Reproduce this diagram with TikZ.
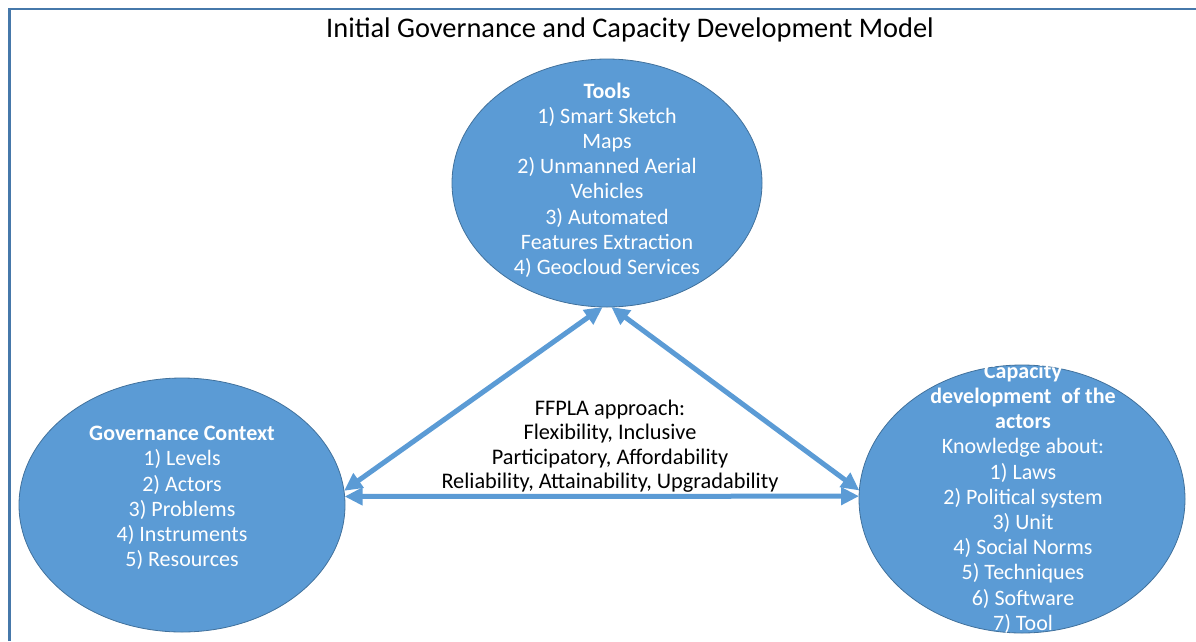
\documentclass[tikz,border=0pt]{standalone}
\usepackage{fontspec}
\setmainfont{Carlito}
\usepackage{tikz}
\usetikzlibrary{shapes.geometric, arrows.meta, positioning}
\definecolor{blobfill}{RGB}{91,155,213}
\definecolor{blobedge}{RGB}{65,113,156}
\definecolor{framecolour}{RGB}{70,120,170}

\begin{document}
\begin{tikzpicture}[x=1pt, y=-1pt,
    blob/.style={ellipse, draw=blobedge, line width=0.8pt, fill=blobfill, inner sep=0pt, outer sep=0pt},
    blobtext/.style={align=center, text=white, font=\fontsize{22}{25.2}\selectfont},
    arrow/.style={{Triangle[length=18pt,width=17pt]}-{Triangle[length=18pt,width=17pt]}, line width=5pt, draw=blobfill}
]
\useasboundingbox (0,0) rectangle (1196,641);
\draw[framecolour, line width=2.6pt] (9.5,641) -- (9.5,9) -- (1196,9);

\node[font=\fontsize{28.4}{34}\selectfont] (title) at (630,30) {Initial Governance and Capacity Development Model};

\node[blob, minimum width=310pt, minimum height=248pt] (tools) at (607,183) {};
\node[blob, minimum width=326pt, minimum height=254pt] (gov) at (182,505) {};
\node[blob, minimum width=326pt, minimum height=268pt] (cap) at (1022,499) {};

\node[blobtext] (toolstext) at (607,180) {\textbf{Tools}\\1) Smart Sketch\\Maps\\2) Unmanned Aerial\\Vehicles\\3) Automated\\Features Extraction\\4) Geocloud Services};
\node[blobtext] (govtext) at (182,498) {\textbf{Governance Context}\\1) Levels\\2) Actors\\3) Problems\\4) Instruments\\5) Resources};
\node[blobtext] (captext) at (1023,498) {\textbf{Capacity}\\\textbf{development\ \ of the}\\\textbf{actors}\\Knowledge about:\\1) Laws\\2) Political system\\3) Unit\\4) Social Norms\\5) Techniques\\6) Software\\7) Tool};

\draw[arrow] (gov.5) -- (tools.268);
\draw[arrow] (tools.272) -- (cap.177);
\draw[arrow] (gov.3) -- (cap.179);

\node[align=center, font=\fontsize{22.3}{24.5}\selectfont] (approach) at (610,446) {FFPLA approach:\\Flexibility, Inclusive\\Participatory, Affordability\\Reliability, Attainability, Upgradability};

\end{tikzpicture}
\end{document}
